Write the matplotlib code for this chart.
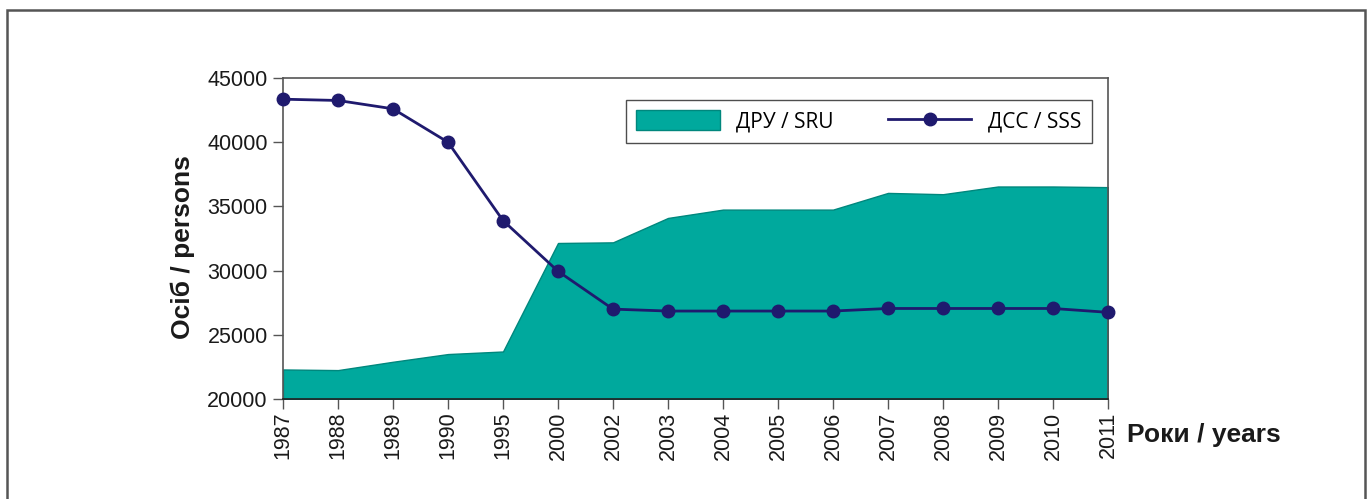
import matplotlib
matplotlib.use("Agg")
import matplotlib.pyplot as plt
from matplotlib.patches import Rectangle
from matplotlib import font_manager

years = ["1987", "1988", "1989", "1990", "1995", "2000", "2002", "2003",
         "2004", "2005", "2006", "2007", "2008", "2009", "2010", "2011"]
sru = [22300, 22250, 22900, 23500, 23700, 32150, 32200, 34100,
       34750, 34750, 34750, 36050, 35950, 36550, 36550, 36500]
sss = [43350, 43250, 42600, 40000, 33900, 29950, 27000, 26850,
       26850, 26850, 26850, 27050, 27050, 27050, 27050, 26750]
yticks = [20000, 25000, 30000, 35000, 40000, 45000]

names = {f.name for f in font_manager.fontManager.ttflist}
narrow = "Liberation Sans Narrow" if "Liberation Sans Narrow" in names else "Liberation Sans"

TEAL = "#00A99D"
NAVY = "#1F1A6E"
SPINE = "#555555"

fig = plt.figure(figsize=(13.70, 4.99), dpi=100)
W, H = 1370, 499
ax = fig.add_axes([283 / W, 1 - 399 / H, (1108 - 283) / W, (399 - 78) / H])

x = list(range(len(years)))
ax.fill_between(x, 20000, sru, facecolor=TEAL, edgecolor="#00877d", linewidth=1.0,
                label="ДРУ / SRU", zorder=2)
ax.plot(x, sss, color=NAVY, linewidth=2, marker="o", markersize=9,
        markerfacecolor=NAVY, markeredgecolor=NAVY, label="ДСС / SSS",
        zorder=3, clip_on=False)

ax.set_xlim(0, len(years) - 1)
ax.set_ylim(20000, 45000)
ax.set_yticks(yticks)
ax.set_yticklabels([str(v) for v in yticks], fontfamily=narrow, fontsize=15.5)
ax.set_xticks(x)
ax.set_xticklabels(years, rotation=90, fontfamily=narrow, fontsize=15.5)
ax.tick_params(axis="both", direction="out", length=7, width=1, color=SPINE,
               labelcolor="#1a1a1a")
ax.tick_params(axis="x", pad=2)
ax.tick_params(axis="y", pad=4)
for s in ax.spines.values():
    s.set_color(SPINE)
    s.set_linewidth(1.2)
ax.spines["bottom"].set_color("#222222")
ax.spines["bottom"].set_zorder(4)

fig.text(183 / W, 1 - 247 / H, "Осіб / persons", fontfamily="Liberation Sans",
         fontweight="bold", fontsize=19, color="#1a1a1a", rotation=90,
         ha="center", va="center")

fig.text(1127 / W, 1 - 435 / H, "Роки / years", fontfamily="Liberation Sans",
         fontweight="bold", fontsize=19, color="#1a1a1a", va="center", ha="left")

leg = ax.legend(loc="upper left", bbox_to_anchor=((626 - 283) / (1108 - 283), 1 - (100 - 78) / (399 - 78)),
                ncol=2, frameon=True, fancybox=False, edgecolor="#222222",
                prop={"family": "Open Sans", "size": 15}, handlelength=4.0,
                handleheight=1.05, columnspacing=2.6, handletextpad=0.8,
                borderpad=0.5, borderaxespad=0)
leg.get_frame().set_linewidth(1.0)

fig.add_artist(Rectangle((7 / W, -0.05), (1365 - 7) / W, (1 - 10 / H) + 0.05,
                         transform=fig.transFigure, fill=False,
                         edgecolor="#555555", linewidth=1.8))

fig.savefig("out.png", dpi=100)
